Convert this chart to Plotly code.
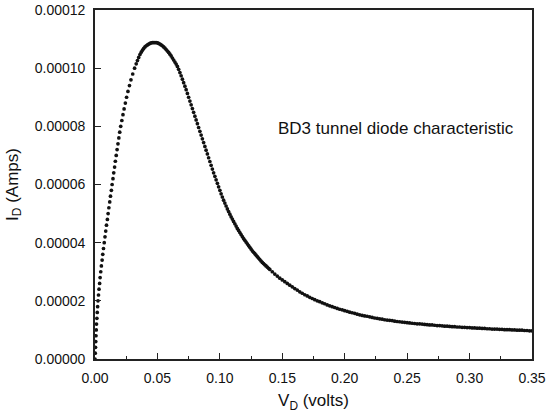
import plotly.graph_objects as go

# ---- data (current values in units of 1e-5 A) ----
# rising branch: read at current steps
rise_I = [0.0, 0.2, 0.4, 0.6, 0.8, 1.0, 1.2, 1.4, 1.6, 1.8, 2.0, 2.2, 2.4, 2.6, 2.8, 3.0,
          3.2, 3.4, 3.6, 3.8, 4.0, 4.2, 4.4, 4.6, 4.8, 5.0, 5.2, 5.4, 5.6, 5.8, 6.0,
          6.2, 6.4, 6.6, 6.8, 7.0, 7.2, 7.4, 7.6, 7.8, 8.0, 8.2, 8.4, 8.6, 8.8, 9.0,
          9.2, 9.4, 9.6, 9.8, 10.0]
rise_V = [0.0000, 0.0002, 0.0004, 0.0006, 0.0008, 0.0010, 0.0012, 0.0015, 0.0018, 0.0021,
          0.0024, 0.0028, 0.0032, 0.0037, 0.0041, 0.0046, 0.0051, 0.0057, 0.0062, 0.0068,
          0.0074, 0.0080, 0.0086, 0.0092, 0.0099, 0.0105, 0.0111, 0.0118, 0.0124, 0.0131,
          0.0137, 0.0144, 0.0150, 0.0157, 0.0163, 0.0170, 0.0177, 0.0184, 0.0191, 0.0198,
          0.0206, 0.0215, 0.0224, 0.0233, 0.0243, 0.0253, 0.0264, 0.0276, 0.0288, 0.0302,
          0.0317]

# peak and negative-resistance region
peak_V = [0.033, 0.034, 0.035, 0.036, 0.037, 0.038, 0.039, 0.040, 0.041, 0.042,
          0.043, 0.044, 0.045, 0.046, 0.047, 0.048, 0.049, 0.050, 0.051, 0.052,
          0.053, 0.054, 0.055, 0.056, 0.057, 0.058, 0.059, 0.060, 0.061, 0.062,
          0.063, 0.064, 0.065, 0.066, 0.067, 0.068, 0.069, 0.070, 0.071, 0.072,
          0.073, 0.074, 0.075, 0.076, 0.077, 0.078, 0.079, 0.080, 0.081, 0.082,
          0.083, 0.084, 0.085, 0.086, 0.087, 0.088, 0.089, 0.090, 0.091, 0.092,
          0.093, 0.094, 0.095, 0.096, 0.097, 0.098, 0.099, 0.100, 0.101, 0.102,
          0.103, 0.104, 0.105, 0.106, 0.107, 0.108, 0.109, 0.110, 0.111, 0.112,
          0.113, 0.114, 0.115, 0.116, 0.117, 0.118, 0.119, 0.120, 0.121, 0.122,
          0.123, 0.124, 0.125, 0.126, 0.127, 0.128, 0.129, 0.130, 0.131, 0.132,
          0.133, 0.134, 0.135, 0.136, 0.137, 0.138, 0.139, 0.140]
peak_I = [10.15, 10.26, 10.37, 10.47, 10.55, 10.62, 10.68, 10.73, 10.77, 10.80,
          10.83, 10.85, 10.87, 10.88, 10.88, 10.88, 10.88, 10.87, 10.85, 10.83,
          10.80, 10.77, 10.73, 10.69, 10.64, 10.59, 10.54, 10.48, 10.42, 10.35,
          10.28, 10.21, 10.14, 10.06, 9.96, 9.85, 9.74, 9.62, 9.50, 9.38,
          9.26, 9.13, 9.00, 8.87, 8.74, 8.61, 8.48, 8.35, 8.22, 8.09,
          7.96, 7.83, 7.70, 7.57, 7.44, 7.31, 7.18, 7.05, 6.92, 6.79,
          6.66, 6.53, 6.40, 6.28, 6.16, 6.04, 5.92, 5.80, 5.68, 5.57,
          5.46, 5.36, 5.26, 5.16, 5.07, 4.98, 4.89, 4.81, 4.73, 4.65,
          4.57, 4.49, 4.42, 4.35, 4.28, 4.21, 4.14, 4.08, 4.02, 3.96,
          3.90, 3.84, 3.78, 3.72, 3.67, 3.62, 3.57, 3.52, 3.47, 3.42,
          3.37, 3.32, 3.28, 3.24, 3.20, 3.16, 3.12, 3.08]

# valley / tail region
tail_V = [0.142, 0.144, 0.146, 0.148, 0.150, 0.152, 0.154, 0.156, 0.158, 0.160,
          0.162, 0.164, 0.166, 0.168, 0.170, 0.172, 0.174, 0.176, 0.178, 0.180,
          0.182, 0.184, 0.186, 0.188, 0.190, 0.192, 0.194, 0.196, 0.198, 0.200,
          0.202, 0.204, 0.206, 0.208, 0.210, 0.212, 0.214, 0.216, 0.218, 0.220,
          0.222, 0.224, 0.226, 0.228, 0.230, 0.232, 0.234, 0.236, 0.238, 0.240,
          0.242, 0.244, 0.246, 0.248, 0.250, 0.252, 0.254, 0.256, 0.258, 0.260,
          0.262, 0.264, 0.266, 0.268, 0.270, 0.272, 0.274, 0.276, 0.278, 0.280,
          0.282, 0.284, 0.286, 0.288, 0.290, 0.292, 0.294, 0.296, 0.298, 0.300,
          0.302, 0.304, 0.306, 0.308, 0.310, 0.312, 0.314, 0.316, 0.318, 0.320,
          0.322, 0.324, 0.326, 0.328, 0.330, 0.332, 0.334, 0.336, 0.338, 0.340,
          0.342, 0.344, 0.346, 0.348, 0.350]
tail_I = [3.00, 2.92, 2.85, 2.78, 2.72, 2.66, 2.60, 2.54, 2.48, 2.42,
          2.37, 2.31, 2.26, 2.21, 2.17, 2.12, 2.08, 2.04, 2.00, 1.97,
          1.93, 1.90, 1.86, 1.83, 1.80, 1.77, 1.74, 1.71, 1.69, 1.66,
          1.64, 1.61, 1.59, 1.57, 1.54, 1.52, 1.50, 1.48, 1.47, 1.45,
          1.43, 1.41, 1.40, 1.38, 1.37, 1.35, 1.34, 1.33, 1.32, 1.30,
          1.29, 1.28, 1.27, 1.26, 1.25, 1.24, 1.23, 1.22, 1.21, 1.21,
          1.20, 1.19, 1.18, 1.17, 1.17, 1.16, 1.15, 1.15, 1.14, 1.13,
          1.13, 1.12, 1.11, 1.11, 1.10, 1.10, 1.09, 1.09, 1.08, 1.08,
          1.07, 1.07, 1.06, 1.06, 1.05, 1.05, 1.04, 1.04, 1.03, 1.03,
          1.03, 1.02, 1.02, 1.01, 1.01, 1.01, 1.00, 1.00, 0.99, 0.99,
          0.99, 0.98, 0.98, 0.97, 0.97]

x_ticks = [0.00, 0.05, 0.10, 0.15, 0.20, 0.25, 0.30, 0.35]
y_ticks = [0.0, 2e-5, 4e-5, 6e-5, 8e-5, 10e-5, 12e-5]
annotation_text = "BD3 tunnel diode characteristic"

V_all = rise_V + peak_V + tail_V
I_all = [v * 1e-5 for v in rise_I + peak_I + tail_I]

FONT = "Liberation Sans, Arial, sans-serif"
AX = "#222222"

fig = go.Figure()
fig.add_trace(go.Scatter(
    x=V_all, y=I_all, mode="markers",
    marker=dict(size=3.7, color="#111111", line=dict(width=0)),
    showlegend=False, hoverinfo="x+y",
))

fig.add_annotation(
    x=0.1452, y=7.94e-5, xref="x", yref="y", text=annotation_text,
    showarrow=False, xanchor="left", yanchor="middle",
    font=dict(family=FONT, size=17, color="#111111"),
)

fig.update_layout(
    width=546, height=417,
    margin=dict(l=95, r=14, t=10, b=58, autoexpand=False),
    paper_bgcolor="white", plot_bgcolor="white",
    font=dict(family=FONT, size=14, color="#111111"),
)
fig.update_xaxes(
    range=[0, 0.35], tickvals=x_ticks, tickformat=".2f",
    ticks="inside", ticklen=6, tickwidth=1.3, tickcolor=AX,
    minor=dict(ticks="inside", ticklen=3, tickwidth=1.2, tickcolor=AX, dtick=0.025, showgrid=False),
    showline=True, linecolor=AX, linewidth=1.6, mirror=True,
    showgrid=False, zeroline=False,
    title=dict(text="V<sub>D</sub> (volts)", font=dict(family=FONT, size=17), standoff=10),
    tickfont=dict(family=FONT, size=14), ticklabelstandoff=5,
)
fig.update_yaxes(
    range=[0, 0.00012], tickvals=y_ticks, tickformat=".5f",
    ticks="inside", ticklen=6, tickwidth=1.3, tickcolor=AX,
    showline=True, linecolor=AX, linewidth=1.6, mirror=True,
    showgrid=False, zeroline=False,
    title=dict(text="I<sub>D</sub> (Amps)", font=dict(family=FONT, size=17), standoff=12),
    tickfont=dict(family=FONT, size=14), ticklabelstandoff=5,
)

fig.write_html("out.html")
